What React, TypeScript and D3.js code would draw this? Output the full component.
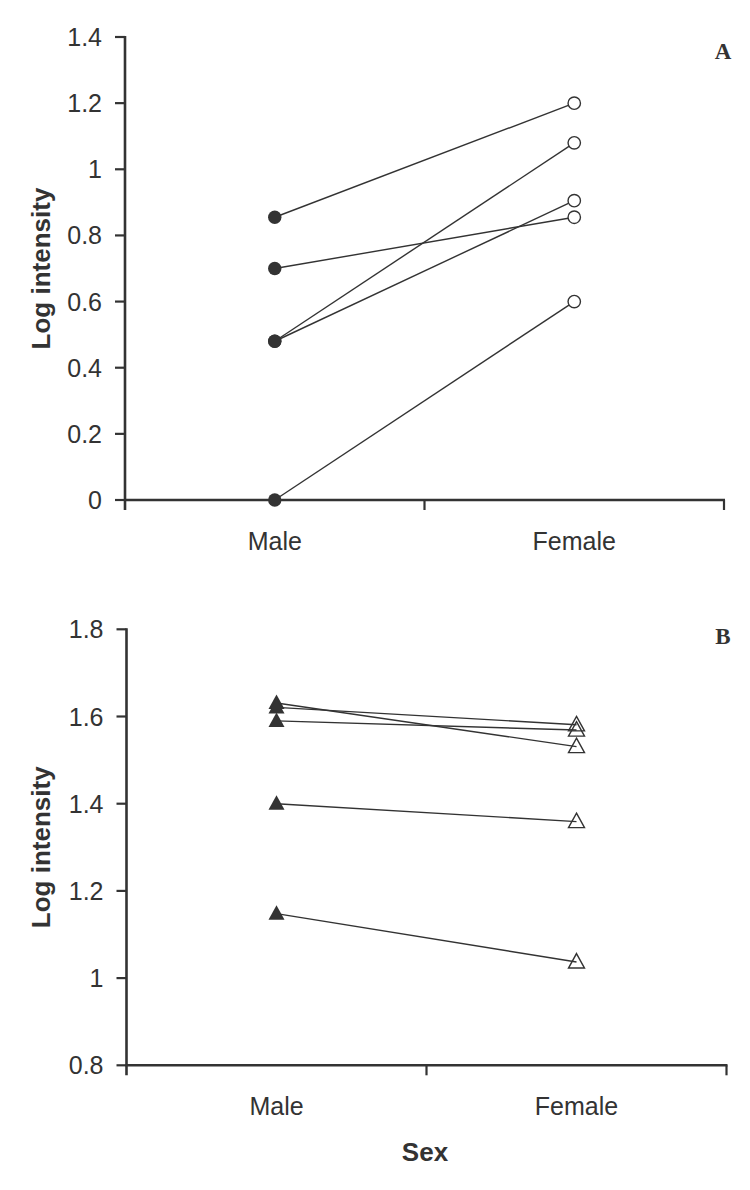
import React from "react";
import * as d3 from "d3";

const categories = ["Male", "Female"];

const panelAMale = [0.855, 0.70, 0.48, 0.48, 0.0];
const panelAFemale = [1.2, 0.855, 1.08, 0.905, 0.6];
const panelATicks = [0, 0.2, 0.4, 0.6, 0.8, 1, 1.2, 1.4];

const panelBMale = [1.631, 1.621, 1.59, 1.4, 1.148];
const panelBFemale = [1.531, 1.581, 1.569, 1.359, 1.037];
const panelBTicks = [0.8, 1, 1.2, 1.4, 1.6, 1.8];

const INK = "#333333";
const SANS = "Arial, 'Liberation Sans', sans-serif";
const SERIF = "'Times New Roman', 'Liberation Serif', serif";

const triangleType = {
  draw(ctx: any, size: number) {
    const w = 16, h = 14.5;
    ctx.moveTo(0, -h * 0.58);
    ctx.lineTo(w / 2, h * 0.42);
    ctx.lineTo(-w / 2, h * 0.42);
    ctx.closePath();
  },
};

function Panel(props: {
  male: number[];
  female: number[];
  ticks: number[];
  domain: [number, number];
  x0: number;
  x1: number;
  yTop: number;
  yBottom: number;
  marker: "circle" | "triangle";
  letter: string;
  letterY: number;
}) {
  const { male, female, ticks, domain, x0, x1, yTop, yBottom, marker, letter, letterY } = props;
  const x = d3.scaleBand<string>().domain(categories).range([x0, x1]).padding(0);
  const y = d3.scaleLinear().domain(domain).range([yBottom, yTop]);
  const cx = (c: string) => (x(c) as number) + x.bandwidth() / 2;
  const line = d3.line<[number, number]>().x((d) => d[0]).y((d) => d[1]);
  const tri = d3.symbol().type(triangleType as any)();
  const edges = [x0, ...categories.map((c) => (x(c) as number) + x.bandwidth())];
  const fmt = (v: number) => String(+v.toFixed(1)).replace(/\.0$/, "");

  return (
    <g>
      <line x1={x0} x2={x0} y1={yTop - 1} y2={yBottom + 10} stroke={INK} strokeWidth={2.6} />
      {ticks.map((t) => (
        <g key={"t" + t}>
          <line x1={x0 - 10} x2={x0} y1={y(t)} y2={y(t)} stroke={INK} strokeWidth={2.2} />
          <text
            x={x0 - 23}
            y={y(t)}
            dy="0.36em"
            textAnchor="end"
            fontFamily={SANS}
            fontSize={25}
            fill={INK}
          >
            {fmt(t)}
          </text>
        </g>
      ))}
      <line x1={x0 - 1} x2={x1 + 1} y1={yBottom} y2={yBottom} stroke={INK} strokeWidth={2.6} />
      {edges.slice(1).map((e, i) => (
        <line key={"e" + i} x1={e} x2={e} y1={yBottom} y2={yBottom + 10} stroke={INK} strokeWidth={2.2} />
      ))}
      {categories.map((c) => (
        <text
          key={c}
          x={cx(c)}
          y={yBottom + 50}
          textAnchor="middle"
          fontFamily={SANS}
          fontSize={25}
          fill={INK}
        >
          {c}
        </text>
      ))}
      <text
        transform={`translate(50, ${(yTop + yBottom) / 2}) rotate(-90)`}
        textAnchor="middle"
        fontFamily={SANS}
        fontWeight="bold"
        fontSize={26}
        fill={INK}
      >
        Log intensity
      </text>
      {male.map((m, i) => (
        <path
          key={"l" + i}
          d={line([
            [cx("Male"), y(m)],
            [cx("Female"), y(female[i])],
          ]) as string}
          stroke={INK}
          strokeWidth={1.4}
          fill="none"
        />
      ))}
      {male.map((m, i) =>
        marker === "circle" ? (
          <circle key={"m" + i} cx={cx("Male")} cy={y(m)} r={6.7} fill={INK} />
        ) : (
          <path key={"m" + i} d={tri as string} transform={`translate(${cx("Male")},${y(m)})`} fill={INK} />
        )
      )}
      {female.map((f, i) =>
        marker === "circle" ? (
          <circle key={"f" + i} cx={cx("Female")} cy={y(f)} r={6.2} fill="#fff" stroke={INK} strokeWidth={1.4} />
        ) : (
          <path
            key={"f" + i}
            d={tri as string}
            transform={`translate(${cx("Female")},${y(f)})`}
            fill="#fff"
            fillOpacity={0}
            stroke={INK}
            strokeWidth={1.4}
          />
        )
      )}
      <text x={723} y={letterY} textAnchor="middle" fontFamily={SERIF} fontWeight="bold" fontSize={23} fill={INK}>
        {letter}
      </text>
    </g>
  );
}

export default function App() {
  return (
    <svg
      width={750}
      height={1190}
      style={{ position: "absolute", left: 0, top: 0, background: "#fff" }}
    >
      <rect width={750} height={1190} fill="#fff" />
      <Panel
        male={panelAMale}
        female={panelAFemale}
        ticks={panelATicks}
        domain={[0, 1.4]}
        x0={125}
        x1={724}
        yTop={37}
        yBottom={500}
        marker="circle"
        letter="A"
        letterY={59}
      />
      <Panel
        male={panelBMale}
        female={panelBFemale}
        ticks={panelBTicks}
        domain={[0.8, 1.8]}
        x0={126.5}
        x1={726.5}
        yTop={629.3}
        yBottom={1065.3}
        marker="triangle"
        letter="B"
        letterY={644}
      />
      <text x={425} y={1161} textAnchor="middle" fontFamily={SANS} fontWeight="bold" fontSize={26} fill={INK}>
        Sex
      </text>
    </svg>
  );
}
